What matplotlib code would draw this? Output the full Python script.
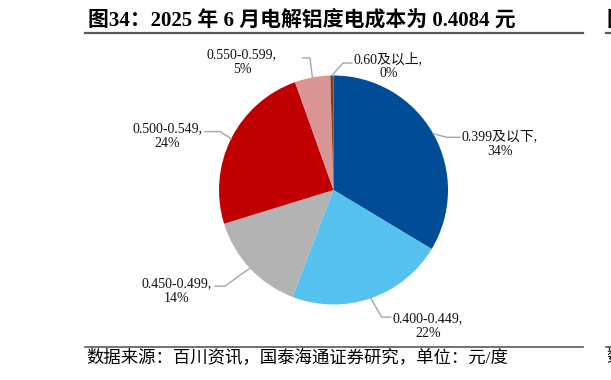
import numpy as np
import matplotlib
matplotlib.use('Agg')
import matplotlib.pyplot as plt
from matplotlib.lines import Line2D

plt.rcParams['font.family'] = ['Liberation Serif', 'Noto Sans CJK SC']

# data
categories = ['0.399及以下', '0.400-0.449', '0.450-0.499', '0.500-0.549', '0.550-0.599', '0.60及以上']
shares = [33.6, 22.2, 14.4, 24.3, 5.0, 0.45]
colors = ['#004C97', '#55C1EE', '#B3B3B3', '#C00000', '#D99694', '#7F3F1F']

title = '图34：2025 年 6 月电解铝度电成本为 0.4084 元'
source = '数据来源：百川资讯，国泰海通证券研究，单位：元/度'

# label layout (data units, radius = 1): elbow, line end, text centre
elbows = [(0.99, 0.46), (0.42, -1.11), (-0.95, -0.84), (-0.99, 0.51), (-0.205, 1.153), (0.083, 1.109)]
ends = [(1.105, 0.46), (0.50, -1.11), (-1.035, -0.84), (-1.12, 0.51), (-0.266, 1.153), (0.162, 1.109)]
txtpos = [(1.45, 0.40), (0.825, -1.19), (-1.37, -0.88), (-1.45, 0.47), (-0.80, 1.12), (0.48, 1.08)]

W, H = 611, 380
fig = plt.figure(figsize=(W / 100, H / 100), dpi=100)

cx, cy, r = 333.5, 190, 114.5
ax = fig.add_axes([(cx - r) / W, (H - cy - r) / H, 2 * r / W, 2 * r / H])
wedges, _ = ax.pie(shares, colors=colors, startangle=90, counterclock=False, radius=1)
ax.set_xlim(-1, 1)
ax.set_ylim(-1, 1)
ax.set_aspect('equal')
ax.axis('off')

for w, cat, v, el, en, tp in zip(wedges, categories, shares, elbows, ends, txtpos):
    mid = np.deg2rad((w.theta1 + w.theta2) / 2)
    sx, sy = np.cos(mid), np.sin(mid)
    ax.plot([sx, el[0], en[0]], [sy, el[1], en[1]], color='#A6A6A6', lw=1, clip_on=False)
    ax.text(tp[0], tp[1], f'{cat},\n{round(v):.0f}%', ha='center', va='center',
            fontsize=10, linespacing=1.15, color='#111111', clip_on=False)

# title and source
fig.text(88 / W, 1 - 21 / H, title, fontsize=15, fontweight='bold', ha='left', va='center', color='black')
fig.add_artist(Line2D([85 / W, 583 / W], [1 - 33 / H, 1 - 33 / H], color='#595959', lw=1.6))
fig.text(86 / W, 1 - 358 / H, source, fontsize=12.5, ha='left', va='center', color='black')
fig.add_artist(Line2D([85 / W, 583 / W], [1 - 347 / H, 1 - 347 / H], color='#595959', lw=1.2))

# neighbouring column, cut off at the right edge
fig.text(606 / W, 1 - 21 / H, '图', fontsize=15, fontweight='bold', ha='left', va='center')
fig.add_artist(Line2D([606 / W, 1.0], [1 - 33 / H, 1 - 33 / H], color='#595959', lw=1.6))
fig.text(606 / W, 1 - 358 / H, '数', fontsize=12.5, ha='left', va='center')
fig.add_artist(Line2D([606 / W, 1.0], [1 - 347 / H, 1 - 347 / H], color='#595959', lw=1.2))

fig.savefig('out.png', dpi=100)
